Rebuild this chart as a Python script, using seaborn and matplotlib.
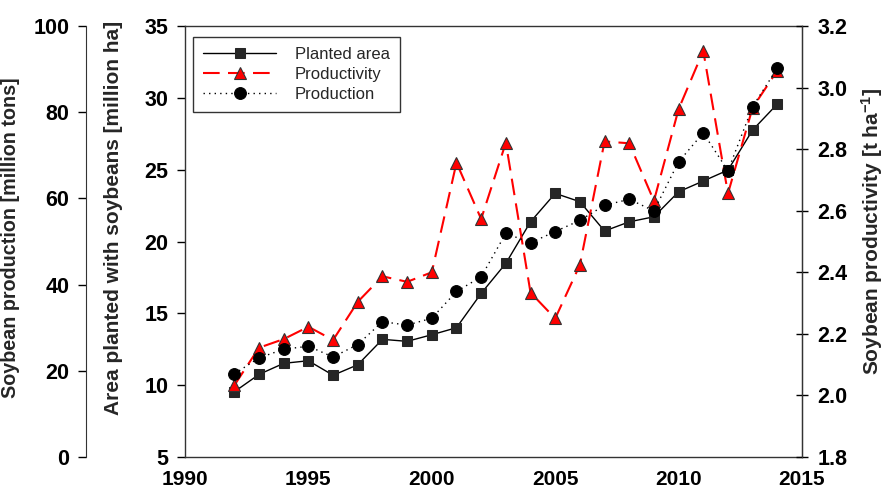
import matplotlib
matplotlib.use("Agg")
import matplotlib.pyplot as plt
import seaborn as sns
import pandas as pd

years = list(range(1992, 2015))
planted_area = [9.54, 10.75, 11.52, 11.70, 10.69, 11.42, 13.19, 13.05, 13.51, 14.00, 16.39,
                18.48, 21.37, 23.35, 22.77, 20.73, 21.37, 21.72, 23.46, 24.21, 24.97, 27.76, 29.57]
productivity = [2.033, 2.155, 2.183, 2.223, 2.180, 2.304, 2.387, 2.369, 2.400, 2.756, 2.573,
                2.821, 2.334, 2.250, 2.424, 2.825, 2.819, 2.632, 2.930, 3.119, 2.656, 2.935, 3.055]
production = [19.3, 23.0, 25.0, 25.7, 23.2, 26.1, 31.4, 30.6, 32.2, 38.4, 41.8,
              51.9, 49.7, 52.3, 54.9, 58.4, 59.8, 57.1, 68.5, 75.2, 66.4, 81.3, 90.2]

x_ticks = [1990, 1995, 2000, 2005, 2010, 2015]
area_ticks = [5, 10, 15, 20, 25, 30, 35]
prod_ticks = [0, 20, 40, 60, 80, 100]
yield_ticks = [1.8, 2.0, 2.2, 2.4, 2.6, 2.8, 3.0, 3.2]

df = pd.DataFrame({"year": years, "area": planted_area,
                   "yield": productivity, "prod": production})

sns.set_style("white")
plt.rcParams["font.family"] = ["Liberation Sans", "DejaVu Sans"]
plt.rcParams["mathtext.fontset"] = "custom"
plt.rcParams["mathtext.rm"] = "Liberation Sans"
plt.rcParams["mathtext.bf"] = "Liberation Sans:bold"
plt.rcParams["mathtext.default"] = "bf"

fig = plt.figure(figsize=(8.85, 4.94), dpi=100)
ax = fig.add_axes([185/885, 1-457/494, (802-185)/885, (457-26)/494])

ax_yield = ax.twinx()
ax_prod = ax.twinx()

sns.lineplot(data=df, x="year", y="area", ax=ax, color="black", linewidth=1.0,
             marker="s", markersize=7.5, markerfacecolor="#262626",
             markeredgecolor="#262626", label="Planted area", legend=False)
sns.lineplot(data=df, x="year", y="yield", ax=ax_yield, color="red", linewidth=1.5,
             marker="^", markersize=8.5, markerfacecolor="red",
             markeredgecolor="#333333", markeredgewidth=0.8,
             label="Productivity", legend=False)
ax_yield.lines[-1].set_dashes((8, 4))
sns.lineplot(data=df, x="year", y="prod", ax=ax_prod, color="black", linewidth=1.0,
             marker="o", markersize=8.5, markerfacecolor="black",
             markeredgecolor="black", label="Production", legend=False)
ax_prod.lines[-1].set_linestyle((0, (1, 3)))

TICK_SIZE = 15.5


def bold_ticks(axis_obj, size=TICK_SIZE):
    for lbl in axis_obj.get_ticklabels():
        lbl.set_fontweight("bold")
        lbl.set_fontsize(size)


# main axis (area)
ax.set_xlim(1990, 2015)
ax.set_ylim(5, 35)
ax.set_xticks(x_ticks)
ax.set_xticklabels([str(t) for t in x_ticks])
ax.set_yticks(area_ticks)
ax.set_yticklabels([str(t) for t in area_ticks])
ax.set_xlabel("")
ax.set_ylabel("Area planted with soybeans [million ha]", fontsize=15, fontweight="bold")
ax.yaxis.set_label_coords(-0.1005, 0.555)
ax.tick_params(axis="x", direction="out", length=6, width=1, pad=3, colors="black")
ax.tick_params(axis="y", direction="out", length=6, width=1, pad=6, colors="black")
bold_ticks(ax.xaxis, 15)
bold_ticks(ax.yaxis)
for s in ax.spines.values():
    s.set_color("#333333")
    s.set_linewidth(1.0)
    s.set_visible(True)

# right axis (productivity)
ax_yield.set_ylim(1.8, 3.2)
ax_yield.set_yticks(yield_ticks)
ax_yield.set_yticklabels([f"{t:.1f}" for t in yield_ticks])
ax_yield.set_ylabel("Soybean productivity [t ha$^{-1}$]", fontsize=15, fontweight="bold")
ax_yield.yaxis.set_label_coords(1.093, 0.524)
ax_yield.tick_params(axis="y", direction="inout", length=8, width=1, pad=7, colors="black")
bold_ticks(ax_yield.yaxis)
for k, s in ax_yield.spines.items():
    s.set_visible(k == "right")
    s.set_color("#333333")

# outer left axis (production)
ax_prod.set_ylim(0, 100)
ax_prod.set_yticks(prod_ticks)
ax_prod.set_yticklabels([str(t) for t in prod_ticks])
ax_prod.yaxis.set_ticks_position("left")
ax_prod.yaxis.set_label_position("left")
ax_prod.spines["left"].set_position(("outward", 99 * 0.72))
for k, s in ax_prod.spines.items():
    s.set_visible(k == "left")
    s.set_color("#333333")
ax_prod.set_ylabel("Soybean production [million tons]", fontsize=14.2, fontweight="bold")
ax_prod.yaxis.set_label_coords(-0.267, 0.508)
ax_prod.tick_params(axis="y", direction="out", length=6, width=1, pad=6, colors="black",
                    labelleft=True, labelright=False)
bold_ticks(ax_prod.yaxis)
ax_prod.set_xlabel("")

handles = [ax.lines[-1], ax_yield.lines[-1], ax_prod.lines[-1]]
labels = ["Planted area", "Productivity", "Production"]
leg = ax_prod.legend(handles, labels, loc="upper left", bbox_to_anchor=(0.013, 0.975),
                     bbox_transform=ax.transAxes, borderaxespad=0, fontsize=12,
                     frameon=True, fancybox=False, handlelength=4.4, handletextpad=1.1,
                     labelspacing=0.3, borderpad=0.6)
leg.get_frame().set_edgecolor("black")
leg.get_frame().set_linewidth(1.0)

fig.savefig("out.png", dpi=100)
